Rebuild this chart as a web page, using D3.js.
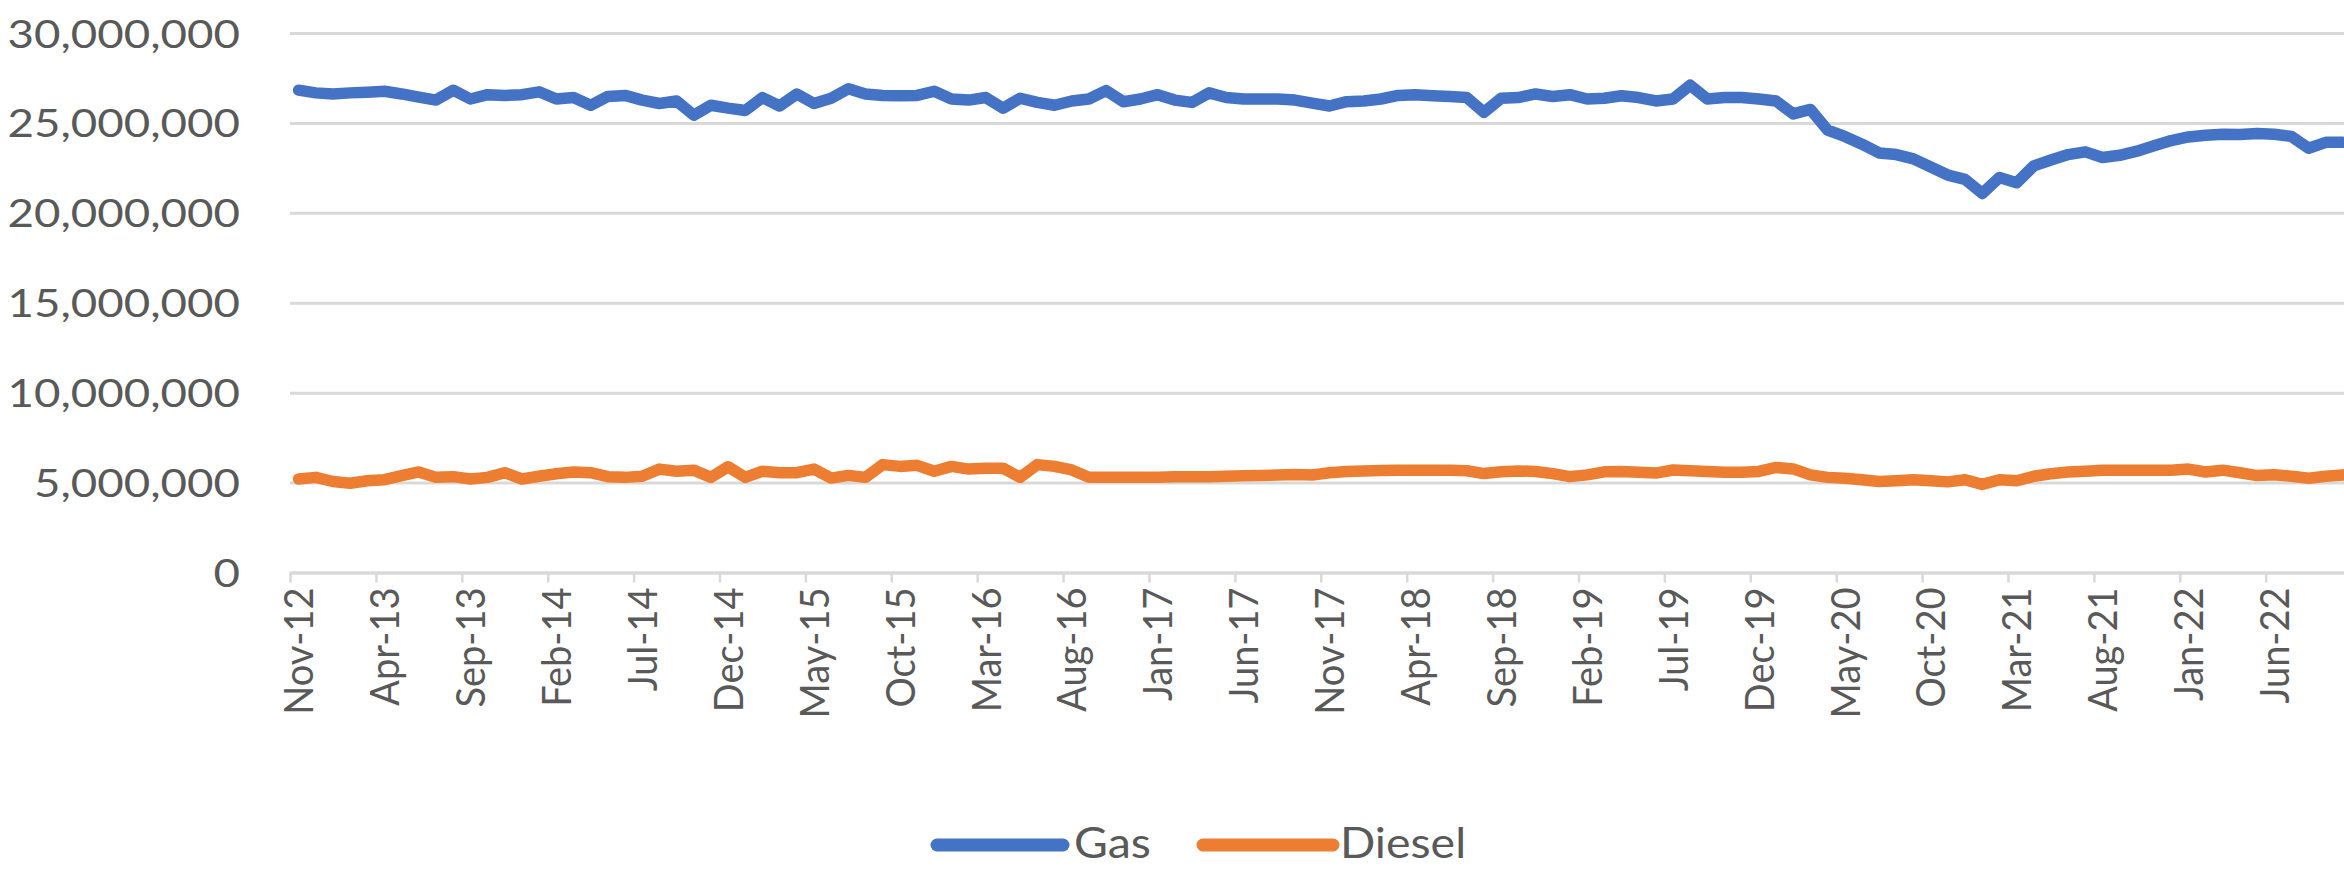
<!DOCTYPE html>
<html>
<head>
<meta charset="utf-8">
<script src="https://cdn.jsdelivr.net/npm/d3@7"></script>
<style>
  html, body { margin: 0; padding: 0; background: #ffffff; }
  svg { display: block; }
</style>
</head>
<body>
<svg id="chart" width="2344" height="870"></svg>
<script>
// ---------------- data ----------------
const months = [
  "Nov-12","Dec-12",
  "Jan-13","Feb-13","Mar-13","Apr-13","May-13","Jun-13","Jul-13","Aug-13","Sep-13","Oct-13","Nov-13","Dec-13",
  "Jan-14","Feb-14","Mar-14","Apr-14","May-14","Jun-14","Jul-14","Aug-14","Sep-14","Oct-14","Nov-14","Dec-14",
  "Jan-15","Feb-15","Mar-15","Apr-15","May-15","Jun-15","Jul-15","Aug-15","Sep-15","Oct-15","Nov-15","Dec-15",
  "Jan-16","Feb-16","Mar-16","Apr-16","May-16","Jun-16","Jul-16","Aug-16","Sep-16","Oct-16","Nov-16","Dec-16",
  "Jan-17","Feb-17","Mar-17","Apr-17","May-17","Jun-17","Jul-17","Aug-17","Sep-17","Oct-17","Nov-17","Dec-17",
  "Jan-18","Feb-18","Mar-18","Apr-18","May-18","Jun-18","Jul-18","Aug-18","Sep-18","Oct-18","Nov-18","Dec-18",
  "Jan-19","Feb-19","Mar-19","Apr-19","May-19","Jun-19","Jul-19","Aug-19","Sep-19","Oct-19","Nov-19","Dec-19",
  "Jan-20","Feb-20","Mar-20","Apr-20","May-20","Jun-20","Jul-20","Aug-20","Sep-20","Oct-20","Nov-20","Dec-20",
  "Jan-21","Feb-21","Mar-21","Apr-21","May-21","Jun-21","Jul-21","Aug-21","Sep-21","Oct-21","Nov-21","Dec-21",
  "Jan-22","Feb-22","Mar-22","Apr-22","May-22","Jun-22","Jul-22","Aug-22","Sep-22","Oct-22"
];

const gas = [
  26820000,26670000,26610000,26670000,26710000,26760000,26610000,26430000,26270000,26820000,
  26330000,26570000,26530000,26570000,26730000,26330000,26410000,25980000,26470000,26530000,
  26270000,26080000,26220000,25430000,25980000,25820000,25690000,26410000,25940000,26610000,
  26080000,26370000,26900000,26610000,26530000,26510000,26530000,26760000,26330000,26270000,
  26410000,25820000,26370000,26140000,25980000,26220000,26330000,26800000,26180000,26330000,
  26570000,26270000,26140000,26670000,26410000,26330000,26330000,26330000,26270000,26100000,
  25940000,26180000,26220000,26330000,26530000,26570000,26510000,26470000,26410000,25590000,
  26370000,26410000,26610000,26470000,26570000,26330000,26370000,26510000,26410000,26220000,
  26330000,27100000,26330000,26410000,26410000,26330000,26220000,25500000,25750000,24600000,
  24250000,23820000,23330000,23240000,23000000,22550000,22100000,21860000,21080000,21960000,
  21670000,22610000,22940000,23240000,23390000,23080000,23200000,23430000,23730000,24020000,
  24220000,24310000,24370000,24350000,24410000,24370000,24250000,23590000,23920000,23920000
];

const diesel = [
  5200000,5290000,5060000,4960000,5100000,5160000,5390000,5590000,5290000,5330000,
  5200000,5290000,5550000,5200000,5350000,5490000,5590000,5550000,5330000,5290000,
  5350000,5750000,5630000,5690000,5290000,5880000,5290000,5630000,5550000,5550000,
  5750000,5250000,5400000,5290000,6000000,5900000,5960000,5630000,5900000,5750000,
  5800000,5800000,5290000,6000000,5900000,5700000,5300000,5300000,5300000,5300000,
  5300000,5320000,5320000,5330000,5350000,5380000,5400000,5420000,5450000,5420000,
  5550000,5620000,5650000,5670000,5680000,5680000,5680000,5680000,5660000,5500000,
  5600000,5650000,5620000,5500000,5330000,5430000,5600000,5620000,5580000,5530000,
  5700000,5660000,5620000,5580000,5580000,5620000,5840000,5760000,5430000,5290000,
  5240000,5160000,5060000,5100000,5160000,5100000,5040000,5160000,4900000,5160000,
  5100000,5350000,5490000,5590000,5630000,5690000,5690000,5690000,5690000,5690000,
  5750000,5590000,5690000,5550000,5390000,5430000,5350000,5240000,5350000,5420000
];

const tickLabels = ["Nov-12","Apr-13","Sep-13","Feb-14","Jul-14","Dec-14","May-15","Oct-15",
  "Mar-16","Aug-16","Jan-17","Jun-17","Nov-17","Apr-18","Sep-18","Feb-19","Jul-19","Dec-19",
  "May-20","Oct-20","Mar-21","Aug-21","Jan-22","Jun-22"];

const yTicks = [0, 5000000, 10000000, 15000000, 20000000, 25000000, 30000000];

const seriesNames = ["Gas", "Diesel"];
const seriesColors = ["#4472C4", "#ED7D31"];

// ---------------- layout ----------------
const W = 2344, H = 870;
const plotLeft = 290, monthStep = 17.18;
const yBottom = 572.5, yTop = 33;
const textColor = "#595959";
const gridColor = "#d9d9d9";
const fontFamily = "Lato, 'Open Sans', sans-serif";

const svg = d3.select("#chart");
svg.append("rect").attr("width", W).attr("height", H).attr("fill", "#ffffff");

const x = d3.scaleLinear().domain([0, months.length]).range([plotLeft, plotLeft + monthStep * months.length]);
const y = d3.scaleLinear().domain([0, 30000000]).range([yBottom, yTop]);

// gridlines + y labels
const yAxis = d3.axisLeft(y)
  .tickValues(yTicks)
  .tickSize(-(W - plotLeft))
  .tickPadding(50)
  .tickFormat(d3.format(","));
const gy = svg.append("g").attr("transform", `translate(${plotLeft},0)`).call(yAxis);
gy.select(".domain").remove();
gy.selectAll(".tick line").attr("stroke", gridColor).attr("stroke-width", 3);
gy.selectAll(".tick text")
  .attr("fill", textColor)
  .attr("font-family", fontFamily)
  .attr("font-size", 39)
  .attr("x", null).attr("dy", "0.36em")
  .attr("transform", "translate(-50,0) scale(1.17,1)");

// x tick marks at category boundaries
const xAxis = d3.axisBottom(x)
  .tickValues(d3.range(0, months.length + 1, 5))
  .tickSize(10)
  .tickSizeOuter(0)
  .tickFormat("");
const gx = svg.append("g").attr("transform", `translate(0,${yBottom})`).call(xAxis);
gx.select(".domain").attr("stroke", gridColor).attr("stroke-width", 3);
gx.selectAll(".tick line").attr("stroke", gridColor).attr("stroke-width", 2.5);

// x labels, rotated
svg.append("g").selectAll("text")
  .data(tickLabels)
  .join("text")
  .attr("transform", d => `translate(${x(months.indexOf(d) + 0.5)},${yBottom + 15}) scale(1.08,1) rotate(-90)`)
  .attr("text-anchor", "end")
  .attr("dy", "0.36em")
  .attr("fill", textColor)
  .attr("font-family", fontFamily)
  .attr("font-size", 38)
  .text(d => d);

// lines
const line = d3.line()
  .x((d, i) => x(i + 0.5))
  .y(d => y(d))
  .curve(d3.curveLinear);

[gas, diesel].forEach((vals, k) => {
  svg.append("path")
    .datum(vals)
    .attr("fill", "none")
    .attr("stroke", seriesColors[k])
    .attr("stroke-width", 11.5)
    .attr("stroke-linejoin", "round")
    .attr("stroke-linecap", "round")
    .attr("d", line);
});

// legend
const legendItems = [
  { name: seriesNames[0], color: seriesColors[0], x0: 937, x1: 1063, tx: 1074 },
  { name: seriesNames[1], color: seriesColors[1], x0: 1203, x1: 1333, tx: 1340 }
];
const lg = svg.append("g");
legendItems.forEach(it => {
  lg.append("line")
    .attr("x1", it.x0).attr("x2", it.x1)
    .attr("y1", 845).attr("y2", 845)
    .attr("stroke", it.color).attr("stroke-width", 13)
    .attr("stroke-linecap", "round");
  lg.append("text")
    .attr("x", it.tx).attr("y", 858)
    .attr("fill", textColor)
    .attr("font-family", fontFamily)
    .attr("font-size", 43)
    .attr("transform", `translate(${it.tx},0) scale(1.08,1) translate(${-it.tx},0)`)
    .text(it.name);
});
</script>
</body>
</html>
